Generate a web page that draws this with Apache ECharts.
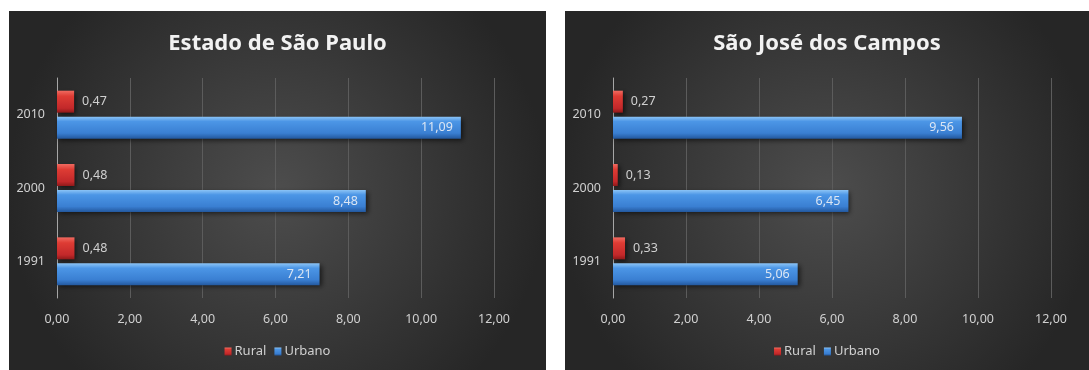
<!DOCTYPE html>
<html>
<head>
<meta charset="utf-8">
<script src="https://cdn.jsdelivr.net/npm/echarts@6/dist/echarts.min.js"></script>
<style>
html,body{margin:0;padding:0;background:#fff;width:1089px;height:370px;overflow:hidden;}
#c1{position:absolute;left:9px;top:11px;width:537px;height:359px;}
#c2{position:absolute;left:565px;top:11px;width:524px;height:359px;}
</style>
</head>
<body>
<div id="c1"></div>
<div id="c2"></div>
<script>
var categories = ['1991', '2000', '2010'];
var spRural = [0.48, 0.48, 0.47];
var spUrban = [7.21, 8.48, 11.09];
var sjcRural = [0.33, 0.13, 0.27];
var sjcUrban = [5.06, 6.45, 9.56];
var xTicks = [0, 2, 4, 6, 8, 10, 12];
var titles = ['Estado de São Paulo', 'São José dos Campos'];

function fmt(v) { return Number(v).toFixed(2).replace('.', ','); }
var FONT = "'Noto Sans', 'DejaVu Sans', sans-serif";

function build(title, rural, urban, gridRight) {
  var redGrad = new echarts.graphic.LinearGradient(0, 0, 0, 1, [
    {offset: 0, color: '#f06a60'}, {offset: 0.25, color: '#de3c34'},
    {offset: 0.8, color: '#c2282a'}, {offset: 1, color: '#8e1a1a'}]);
  var blueGrad = new echarts.graphic.LinearGradient(0, 0, 0, 1, [
    {offset: 0, color: '#8cc4f6'}, {offset: 0.22, color: '#4c96e6'},
    {offset: 0.75, color: '#3a7fd2'}, {offset: 1, color: '#23589e'}]);
  return {
    backgroundColor: new echarts.graphic.RadialGradient(0.5, 0.5, 0.75, [
      {offset: 0, color: '#4d4d4d'}, {offset: 1, color: '#262626'}]),
    animation: false,
    textStyle: {fontFamily: FONT},
    title: {
      text: title, left: 'center', top: 17,
      textStyle: {color: '#f2f2f2', fontSize: 22, fontWeight: 'bold', fontFamily: FONT}
    },
    legend: {
      data: ['Rural', 'Urbano'], bottom: 7, left: 'center',
      icon: 'rect', itemWidth: 7, itemHeight: 8, itemGap: 8,
      textStyle: {color: '#d0d0d0', fontSize: 13, fontFamily: FONT, padding: [0, 0, 0, -2]}
    },
    grid: {left: 48, right: gridRight, top: 67, bottom: 72},
    xAxis: {
      type: 'value', min: xTicks[0], max: xTicks[xTicks.length - 1], interval: 2,
      axisLine: {show: false}, axisTick: {show: false},
      splitLine: {show: true, lineStyle: {color: '#5c5c5c', width: 1}},
      axisLabel: {color: '#d0d0d0', fontSize: 12.5, margin: 15, formatter: fmt}
    },
    yAxis: {
      type: 'category', data: categories,
      axisLine: {show: true, lineStyle: {color: '#a6a6a6', width: 1}},
      axisTick: {show: false},
      axisLabel: {color: '#d0d0d0', fontSize: 12.5, margin: 12}
    },
    series: [
      {
        name: 'Rural', type: 'bar', data: rural, barWidth: 22, barGap: '18%',
        itemStyle: {color: redGrad, shadowColor: 'rgba(0,0,0,0.6)', shadowBlur: 5, shadowOffsetX: 2, shadowOffsetY: 2},
        label: {show: true, position: 'right', distance: 8, color: '#d0d0d0', fontSize: 12.5, formatter: function(p){return fmt(p.value);}}
      },
      {
        name: 'Urbano', type: 'bar', data: urban, barWidth: 22,
        itemStyle: {color: blueGrad, shadowColor: 'rgba(0,0,0,0.6)', shadowBlur: 5, shadowOffsetX: 2, shadowOffsetY: 2},
        label: {show: true, position: 'insideRight', distance: 8, color: '#dbe6f4', fontSize: 12.5, formatter: function(p){return fmt(p.value);}}
      }
    ]
  };
}

var ch1 = echarts.init(document.getElementById('c1'), null, {renderer: 'canvas'});
ch1.setOption(build(titles[0], spRural, spUrban, 52));
var ch2 = echarts.init(document.getElementById('c2'), null, {renderer: 'canvas'});
ch2.setOption(build(titles[1], sjcRural, sjcUrban, 38));
</script>
</body>
</html>
